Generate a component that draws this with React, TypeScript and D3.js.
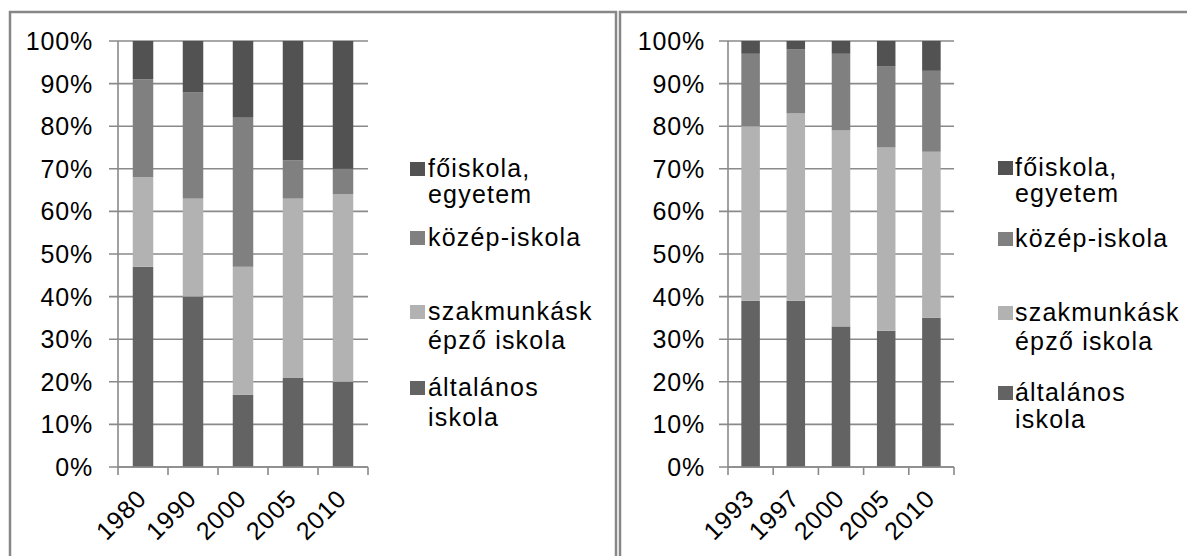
import React from 'react';
import * as d3 from 'd3';

// left chart
const yearsA = ['1980', '1990', '2000', '2005', '2010'];
const altalanosA = [47, 40, 17, 21, 20];
const szakmunkasA = [21, 23, 30, 42, 44];
const kozepA = [23, 25, 35, 9, 6];
const foiskolaA = [9, 12, 18, 28, 30];

// right chart
const yearsB = ['1993', '1997', '2000', '2005', '2010'];
const altalanosB = [39, 39, 33, 32, 35];
const szakmunkasB = [41, 44, 46, 43, 39];
const kozepB = [17, 15, 18, 19, 19];
const foiskolaB = [3, 2, 3, 6, 7];

const seriesKeys = ['altalanos', 'szakmunkas', 'kozep', 'foiskola'];
const yTicks = [0, 10, 20, 30, 40, 50, 60, 70, 80, 90, 100];
// legend goes top to bottom, reverse of stack order
const legendLines = [['főiskola,', 'egyetem'], ['közép-iskola'], ['szakmunkásk', 'épző iskola'], ['általános', 'iskola']];

const colors: Record<string, string> = {
  altalanos: '#636363',
  szakmunkas: '#b2b2b2',
  kozep: '#808080',
  foiskola: '#525252',
};
const legendKeys = ['foiskola', 'kozep', 'szakmunkas', 'altalanos'];

const FONT = 'Liberation Sans, Arial, sans-serif';
const GRID = '#8a8a8a';

type PanelProps = {
  years: string[];
  altalanos: number[];
  szakmunkas: number[];
  kozep: number[];
  foiskola: number[];
  x0: number;
  x1: number;
  labelRight: number;
  legendX: number;
  textX: number;
  baselines: number[][];
};

const Panel = (p: PanelProps) => {
  const top = 41;
  const bottom = 467;
  const rows = p.years.map((yr, i) => ({
    year: yr,
    altalanos: p.altalanos[i],
    szakmunkas: p.szakmunkas[i],
    kozep: p.kozep[i],
    foiskola: p.foiskola[i],
  }));
  const stacked = d3.stack<any>().keys(seriesKeys)(rows);

  const x = d3.scaleBand().domain(p.years).range([p.x0, p.x1]).padding(0);
  const y = d3.scaleLinear().domain([0, 100]).range([bottom, top]);
  const bw = x.bandwidth() * 0.41;

  return (
    <g>
      {yTicks.map(t => (
        <g key={t}>
          <line x1={p.x0 - 9} x2={p.x1} y1={y(t)} y2={y(t)} stroke={GRID} strokeWidth={1.6} />
          <text x={p.labelRight} y={y(t)} dy="0.36em" textAnchor="end" fontSize={25} letterSpacing={0.8}
            fontFamily={FONT} fill="#000">
            {t + '%'}
          </text>
        </g>
      ))}
      {stacked.map(s => (
        <g key={s.key} fill={colors[s.key]}>
          {s.map((d, i) => (
            <rect
              key={i}
              x={(x(p.years[i]) as number) + (x.bandwidth() - bw) / 2}
              y={y(d[1])}
              width={bw}
              height={y(d[0]) - y(d[1])}
            />
          ))}
        </g>
      ))}
      <line x1={p.x0} x2={p.x0} y1={top} y2={bottom} stroke={GRID} strokeWidth={1.6} />
      <line x1={p.x0} x2={p.x1} y1={bottom} y2={bottom} stroke={GRID} strokeWidth={1.6} />
      {p.years.map(yr => (x(yr) as number)).concat([p.x1]).map((bx, i) => (
        <line key={i} x1={bx} x2={bx} y1={bottom} y2={bottom + 8} stroke={GRID} strokeWidth={1.6} />
      ))}
      {p.years.map(yr => {
        const cx = (x(yr) as number) + x.bandwidth() / 2 + 5;
        const cy = bottom + 33;
        return (
          <text key={yr} transform={`translate(${cx},${cy}) rotate(-45)`} textAnchor="end"
            fontSize={25} letterSpacing={0.8} fontFamily={FONT} fill="#000">
            {yr}
          </text>
        );
      })}
      {legendKeys.map((k, i) => (
        <g key={k}>
          <rect x={p.legendX} y={p.baselines[i][0] - 15} width={15} height={14} fill={colors[k]} />
          {legendLines[i].map((ln, j) => (
            <text key={j} x={p.textX} y={p.baselines[i][j]} fontSize={25} letterSpacing={1.2}
              fontFamily={FONT} fill="#000">
              {ln}
            </text>
          ))}
        </g>
      ))}
    </g>
  );
};

export default function App() {
  return (
    <svg width={1187} height={556} style={{ position: 'absolute', left: 0, top: 0, background: '#fff' }}>
      {/* panel frames */}
      <path d="M10,560 V12 H616 V560" fill="none" stroke="#878787" strokeWidth={2.5} />
      <path d="M620,560 V12 H1190" fill="none" stroke="#878787" strokeWidth={2.5} />
      <Panel
        years={yearsA}
        altalanos={altalanosA}
        szakmunkas={szakmunkasA}
        kozep={kozepA}
        foiskola={foiskolaA}
        x0={118}
        x1={368}
        labelRight={93}
        legendX={410}
        textX={428}
        baselines={[[177, 203], [246], [320, 349], [396, 426]]}
      />
      <Panel
        years={yearsB}
        altalanos={altalanosB}
        szakmunkas={szakmunkasB}
        kozep={kozepB}
        foiskola={foiskolaB}
        x0={728}
        x1={954}
        labelRight={705}
        legendX={998}
        textX={1015}
        baselines={[[176, 202], [247], [321, 350], [401, 428]]}
      />
    </svg>
  );
}
